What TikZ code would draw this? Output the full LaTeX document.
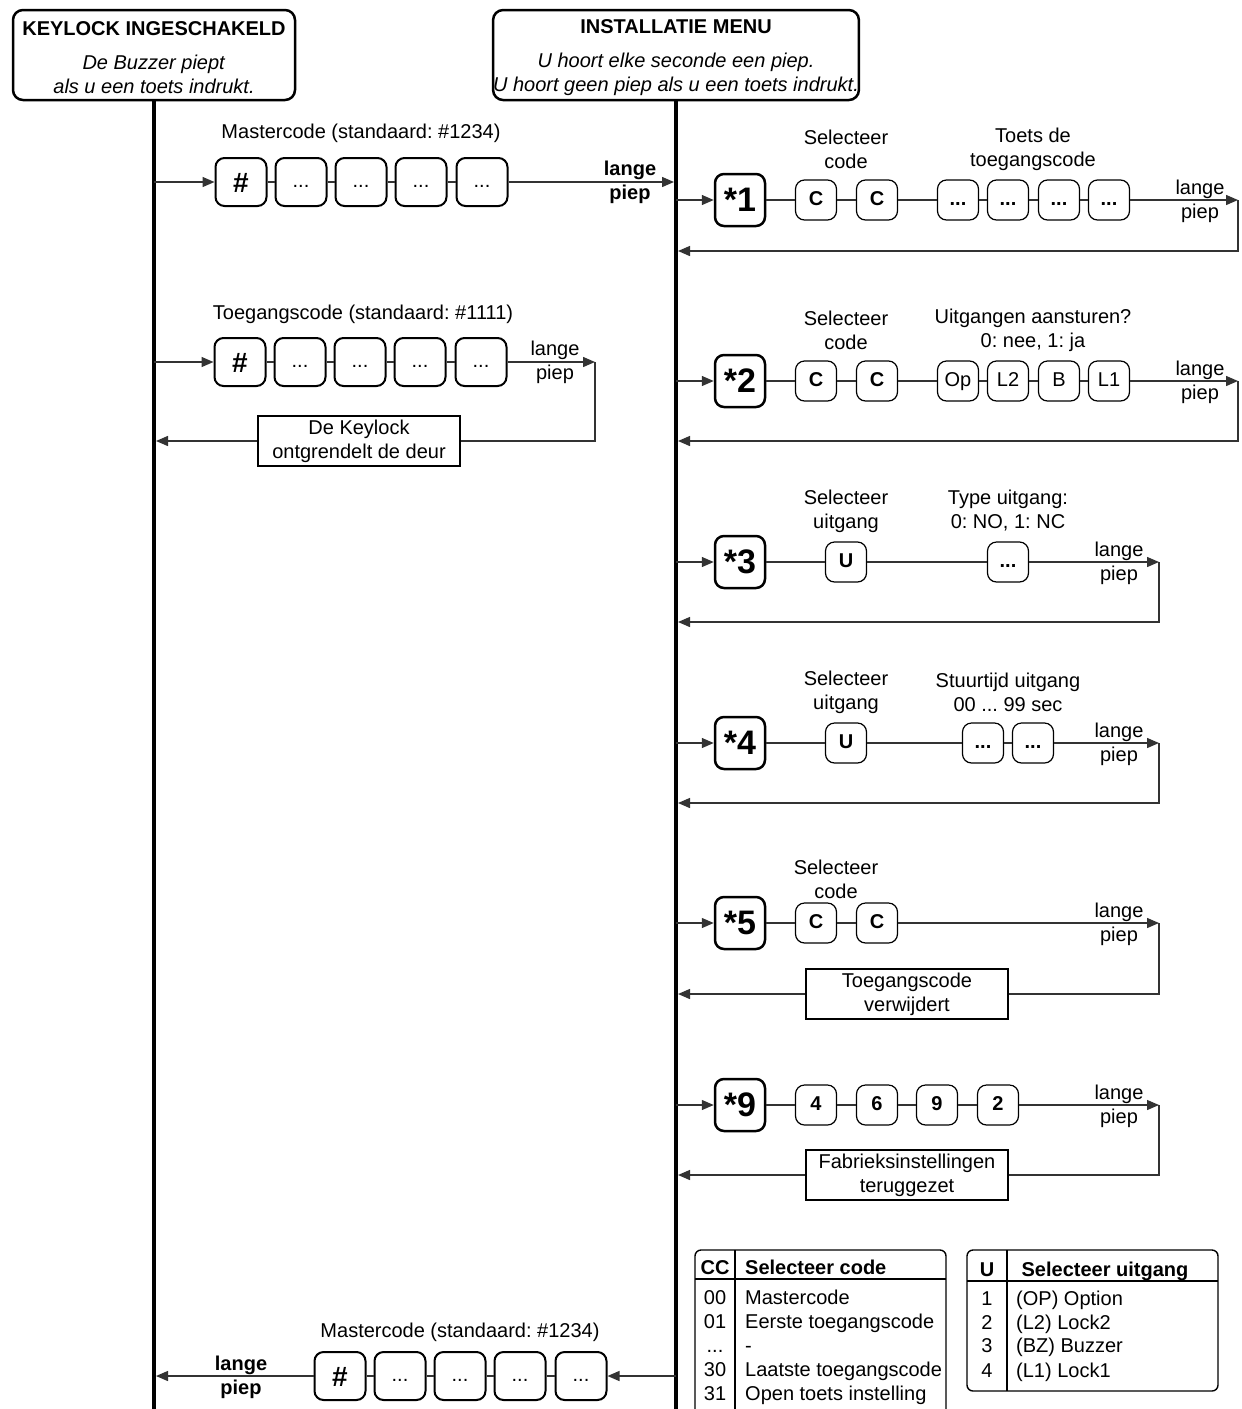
\documentclass[tikz,border=0pt]{standalone}
\usepackage{fontspec}
\setmainfont{Liberation Sans}
\usetikzlibrary{arrows.meta}
\frenchspacing

\tikzset{
	every node/.style={font=\fontsize{20}{24}\selectfont, inner sep=0pt},
	conn/.style={line width=1.4pt, black!80},
	arr/.style={conn, -{Triangle[length=12pt,width=10pt]}},
	headbox/.style={draw, line width=2.5pt, rounded corners=10pt, align=center, minimum height=90pt},
	codekey/.style={draw, line width=2pt, rounded corners=9pt, minimum width=51pt, minimum height=48pt, text height=14pt, text depth=4pt},
	hashkey/.style={codekey, font=\bfseries\fontsize{28}{28}\selectfont, text height=20pt, text depth=0pt},
	starkey/.style={draw, line width=2.5pt, rounded corners=9pt, minimum width=50pt, minimum height=52pt, font=\bfseries\fontsize{34}{34}\selectfont},
	smallkey/.style={draw, line width=1.2pt, rounded corners=9pt, minimum width=41pt, minimum height=40pt, text height=14pt, text depth=4pt, font=\bfseries\fontsize{20}{24}\selectfont},
	plainkey/.style={smallkey, font=\fontsize{20}{24}\selectfont},
	msgbox/.style={draw, line width=1.2pt, fill=white, align=center, minimum width=202pt, minimum height=50pt},
	lbl/.style={align=center},
	boldlbl/.style={align=center, font=\bfseries\fontsize{20}{24}\selectfont},
	cell/.style={text height=18pt, text depth=4pt}
}

\begin{document}
\begin{tikzpicture}[x=1pt,y=-1pt]
	\useasboundingbox (0,0) rectangle (1242,1409);
	% headers and the two time lines
	\node[headbox,minimum width=282pt] (kl) at (154,55) {\rule{0pt}{20pt}\textbf{KEYLOCK INGESCHAKELD}\\[10pt]\textit{De Buzzer piept}\\\textit{als u een toets indrukt.}};
	\node[headbox,minimum width=362pt] (im) at (676,55) {\rule{0pt}{20pt}\textbf{INSTALLATIE MENU}\\[10pt]\textit{U hoort elke seconde een piep.}\\\textit{U hoort geen piep als u een toets indrukt.}};
	\coordinate (klend) at (154,1409);
	\coordinate (imend) at (676,1409);
	\draw[line width=4pt] (kl.south) -- (klend);
	\draw[line width=4pt] (im.south) -- (imend);

	% mastercode
	\node[lbl] (mal) at (361,133) {Mastercode (standaard: \#1234)};
	\node[hashkey] (ma0) at (241,182) {\#};
	\foreach \i/\x in {1/301,2/361,3/421,4/482}
		\node[codekey] (ma\i) at (\x,182) {...};
	\draw[conn] (ma0) -- (ma1) -- (ma2) -- (ma3) -- (ma4);
	\draw[arr] (ma0 -| kl) -- (ma0);
	\draw[arr,shorten >=2pt] (ma4) -- (ma4 -| im);
	\node[boldlbl] (lpa) at (630,182) {lange\\piep};

	% toegangscode
	\node[lbl] (mbl) at (363,314) {Toegangscode (standaard: \#1111)};
	\node[hashkey] (mb0) at (240,362) {\#};
	\foreach \i/\x in {1/300,2/360,3/420,4/481}
		\node[codekey] (mb\i) at (\x,362) {...};
	\draw[conn] (mb0) -- (mb1) -- (mb2) -- (mb3) -- (mb4);
	\draw[arr] (mb0 -| kl) -- (mb0);
	\coordinate (mbr) at (595,362);
	\coordinate (mbd) at (595,441);
	\draw[arr] (mb4) -- (mbr);
	\draw[arr,shorten >=2pt] (mbr) -- (mbd) -- (mbd -| kl);
	\node[msgbox] (mbm) at (359,441) {De Keylock\\ontgrendelt de deur};
	\node[lbl] (lpb) at (555,362) {lange\\piep};

	% *1
	\node[starkey] (s1) at (740,200) {*1};
	\node[smallkey] (s1a) at (816,200) {C};
	\node[smallkey] (s1b) at (877,200) {C};
	\foreach \i/\x in {1/958,2/1008,3/1059,4/1109}
		\node[smallkey] (s1d\i) at (\x,200) {...};
	\draw[conn] (s1) -- (s1a) -- (s1b) -- (s1d1) -- (s1d2) -- (s1d3) -- (s1d4);
	\draw[arr] (s1 -| im) -- (s1);
	\coordinate (r1a) at (1238,200);
	\coordinate (r1b) at (1238,251);
	\draw[arr] (s1d4) -- (r1a);
	\draw[arr,shorten >=2pt] (r1a) -- (r1b) -- (r1b -| im);
	\node[lbl] (s1l) at (846,149) {Selecteer\\code};
	\node[lbl] (s1m) at (1033,149) {Toets de\\toegangscode};
	\node[lbl] (lp1) at (1200,201) {lange\\piep};

	% *2
	\node[starkey] (s2) at (740,381) {*2};
	\node[smallkey] (s2a) at (816,381) {C};
	\node[smallkey] (s2b) at (877,381) {C};
	\node[plainkey] (s2d1) at (958,381) {Op};
	\node[plainkey] (s2d2) at (1008,381) {L2};
	\node[plainkey] (s2d3) at (1059,381) {B};
	\node[plainkey] (s2d4) at (1109,381) {L1};
	\draw[conn] (s2) -- (s2a) -- (s2b) -- (s2d1) -- (s2d2) -- (s2d3) -- (s2d4);
	\draw[arr] (s2 -| im) -- (s2);
	\coordinate (r2a) at (1238,381);
	\coordinate (r2b) at (1238,441);
	\draw[arr] (s2d4) -- (r2a);
	\draw[arr,shorten >=2pt] (r2a) -- (r2b) -- (r2b -| im);
	\node[lbl] (s2l) at (846,330) {Selecteer\\code};
	\node[lbl] (s2m) at (1033,330) {Uitgangen aansturen?\\0: nee, 1: ja};
	\node[lbl] (lp2) at (1200,382) {lange\\piep};

	% *3
	\node[starkey] (s3) at (740,562) {*3};
	\node[smallkey] (s3u) at (846,562) {U};
	\node[smallkey] (s3d) at (1008,562) {...};
	\draw[conn] (s3) -- (s3u) -- (s3d);
	\draw[arr] (s3 -| im) -- (s3);
	\coordinate (r3a) at (1159,562);
	\coordinate (r3b) at (1159,622);
	\draw[arr] (s3d) -- (r3a);
	\draw[arr,shorten >=2pt] (r3a) -- (r3b) -- (r3b -| im);
	\node[lbl] (s3l) at (846,511) {Selecteer\\uitgang};
	\node[lbl] (s3m) at (1008,511) {Type uitgang:\\0: NO, 1: NC};
	\node[lbl] (lp3) at (1119,563) {lange\\piep};

	% *4
	\node[starkey] (s4) at (740,743) {*4};
	\node[smallkey] (s4u) at (846,743) {U};
	\node[smallkey] (s4d1) at (983,743) {...};
	\node[smallkey] (s4d2) at (1033,743) {...};
	\draw[conn] (s4) -- (s4u) -- (s4d1) -- (s4d2);
	\draw[arr] (s4 -| im) -- (s4);
	\coordinate (r4a) at (1159,743);
	\coordinate (r4b) at (1159,803);
	\draw[arr] (s4d2) -- (r4a);
	\draw[arr,shorten >=2pt] (r4a) -- (r4b) -- (r4b -| im);
	\node[lbl] (s4l) at (846,692) {Selecteer\\uitgang};
	\node[lbl] (s4m) at (1008,692) {Stuurtijd uitgang\\00 ... 99 sec};
	\node[lbl] (lp4) at (1119,744) {lange\\piep};

	% *5
	\node[starkey] (s5) at (740,923) {*5};
	\node[smallkey] (s5a) at (816,923) {C};
	\node[smallkey] (s5b) at (877,923) {C};
	\draw[conn] (s5) -- (s5a) -- (s5b);
	\draw[arr] (s5 -| im) -- (s5);
	\coordinate (r5a) at (1159,923);
	\coordinate (r5b) at (1159,994);
	\draw[arr] (s5b) -- (r5a);
	\draw[arr,shorten >=2pt] (r5a) -- (r5b) -- (r5b -| im);
	\node[msgbox] (s5m) at (907,994) {Toegangscode\\verwijdert};
	\node[lbl] (s5l) at (836,879) {Selecteer\\code};
	\node[lbl] (lp5) at (1119,924) {lange\\piep};

	% *9
	\node[starkey] (s9) at (740,1105) {*9};
	\node[smallkey] (s9a) at (816,1105) {4};
	\node[smallkey] (s9b) at (877,1105) {6};
	\node[smallkey] (s9c) at (937,1105) {9};
	\node[smallkey] (s9d) at (998,1105) {2};
	\draw[conn] (s9) -- (s9a) -- (s9b) -- (s9c) -- (s9d);
	\draw[arr] (s9 -| im) -- (s9);
	\coordinate (r9a) at (1159,1105);
	\coordinate (r9b) at (1159,1175);
	\draw[arr] (s9d) -- (r9a);
	\draw[arr,shorten >=2pt] (r9a) -- (r9b) -- (r9b -| im);
	\node[msgbox] (s9m) at (907,1175) {Fabrieksinstellingen\\teruggezet};
	\node[lbl] (lp9) at (1119,1106) {lange\\piep};

	% back to keylock
	\node[lbl] (mzl) at (460,1332) {Mastercode (standaard: \#1234)};
	\node[hashkey] (mz0) at (340,1376) {\#};
	\foreach \i/\x in {1/400,2/460,3/520,4/581}
		\node[codekey] (mz\i) at (\x,1376) {...};
	\draw[conn] (mz0) -- (mz1) -- (mz2) -- (mz3) -- (mz4);
	\draw[arr] (mz4 -| im) -- (mz4);
	\draw[arr,shorten >=2pt] (mz0) -- (mz0 -| kl);
	\node[boldlbl] (lpz) at (241,1377) {lange\\piep};

	% tables
	\draw[line width=1.4pt,rounded corners=6pt] (695,1415) -- (695,1250) -- (946,1250) -- (946,1415);
	\draw[line width=1.2pt] (695,1279) -- (946,1279) (735,1250) -- (735,1415);
	\node[boldlbl,cell] (cch) at (715,1267) {CC};
	\node[boldlbl,cell,anchor=west] (cct) at (745,1267) {Selecteer code};
	\node[cell] (cc0) at (715,1297) {00};
	\node[cell,anchor=west] (cc0t) at (745,1297) {Mastercode};
	\node[cell] (cc1) at (715,1321) {01};
	\node[cell,anchor=west] (cc1t) at (745,1321) {Eerste toegangscode};
	\node[cell] (cc2) at (715,1345) {...};
	\node[cell,anchor=west] (cc2t) at (745,1345) {-};
	\node[cell] (cc3) at (715,1369) {30};
	\node[cell,anchor=west] (cc3t) at (745,1369) {Laatste toegangscode};
	\node[cell] (cc4) at (715,1393) {31};
	\node[cell,anchor=west] (cc4t) at (745,1393) {Open toets instelling};

	\draw[line width=1.4pt,rounded corners=6pt] (967,1250) rectangle (1218,1391);
	\draw[line width=1.2pt] (967,1281) -- (1218,1281) (1007,1250) -- (1007,1391);
	\node[boldlbl,cell] (uh) at (987,1269) {U};
	\node[boldlbl,cell] (ut) at (1105,1269) {Selecteer uitgang};
	\node[cell] (u1) at (987,1298) {1};
	\node[cell,anchor=west] (u1t) at (1016,1298) {(OP) Option};
	\node[cell] (u2) at (987,1322) {2};
	\node[cell,anchor=west] (u2t) at (1016,1322) {(L2) Lock2};
	\node[cell] (u3) at (987,1345) {3};
	\node[cell,anchor=west] (u3t) at (1016,1345) {(BZ) Buzzer};
	\node[cell] (u4) at (987,1370) {4};
	\node[cell,anchor=west] (u4t) at (1016,1370) {(L1) Lock1};
\end{tikzpicture}
\end{document}
